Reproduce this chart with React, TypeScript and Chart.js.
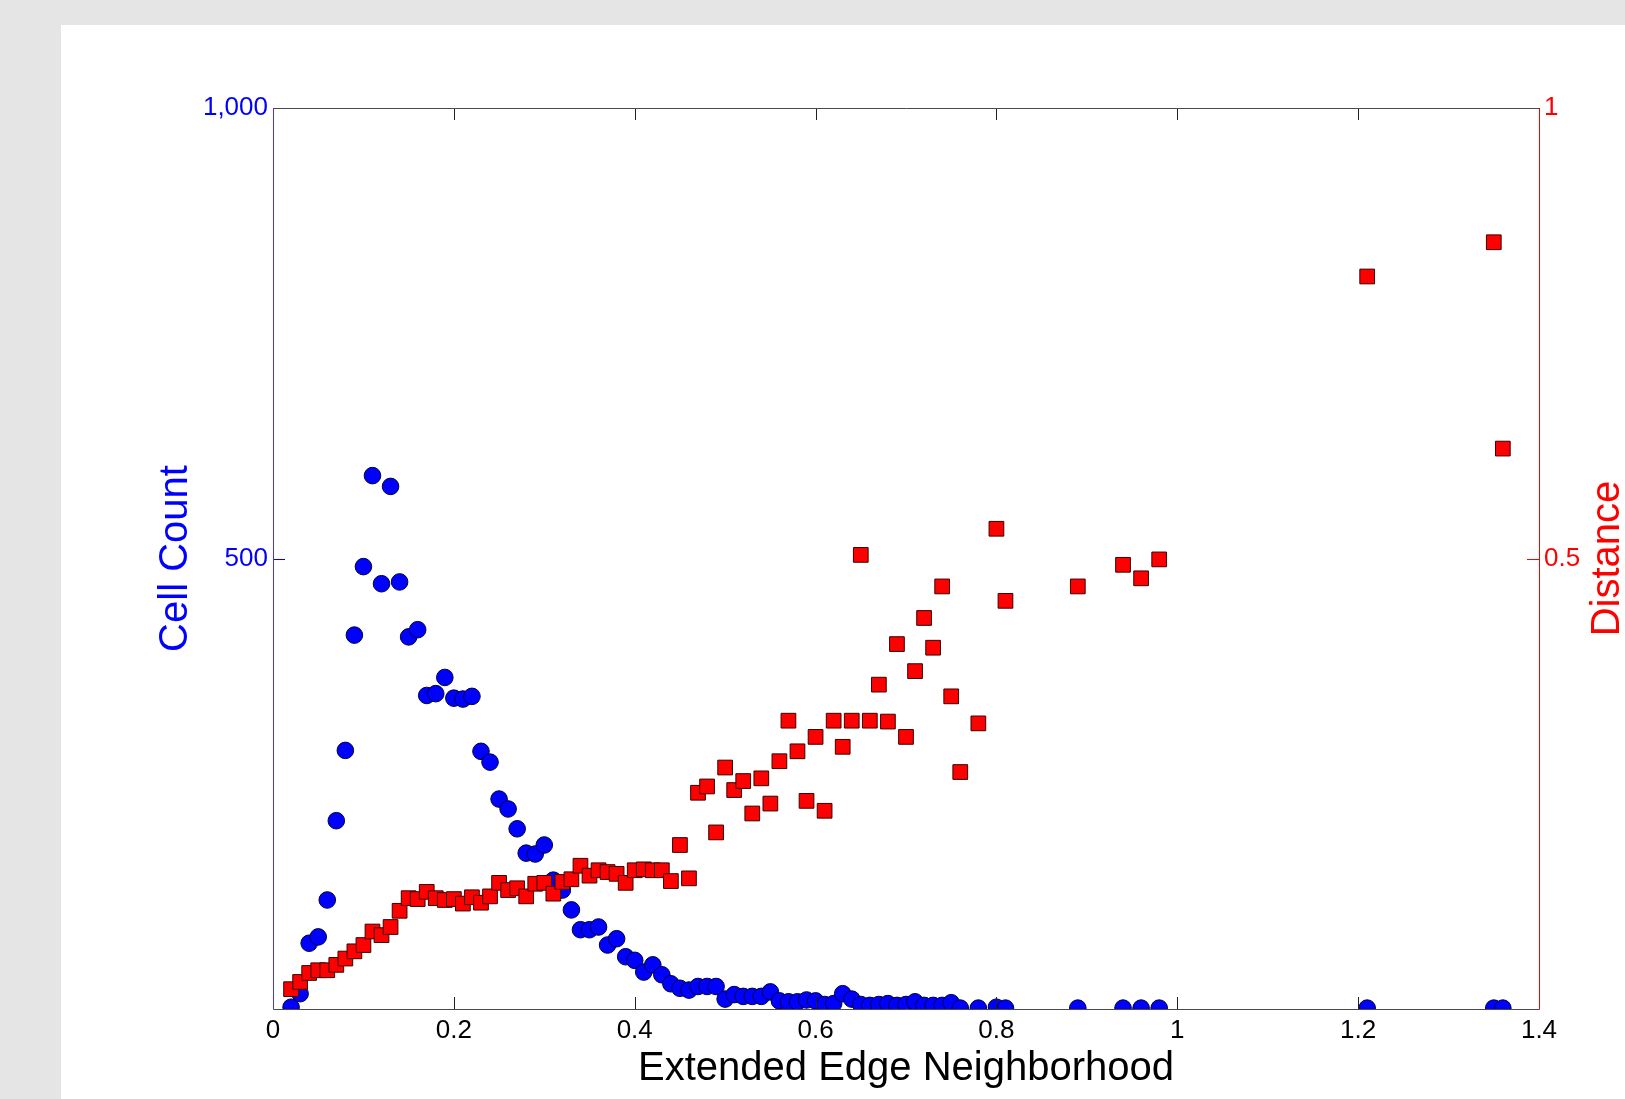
import React, { useEffect, useRef } from "react";
import { Chart, registerables } from "chart.js";

Chart.register(...registerables);

// Neighbourhood size (x) shared by both series
const extendedEdge = [
  0.02, 0.03, 0.04, 0.05, 0.06, 0.07, 0.08, 0.09, 0.1, 0.11,
  0.12, 0.13, 0.14, 0.15, 0.16, 0.17, 0.18, 0.19, 0.2, 0.21,
  0.22, 0.23, 0.24, 0.25, 0.26, 0.27, 0.28, 0.29, 0.3, 0.31,
  0.32, 0.33, 0.34, 0.35, 0.36, 0.37, 0.38, 0.39, 0.4, 0.41,
  0.42, 0.43, 0.44, 0.45, 0.46, 0.47, 0.48, 0.49, 0.5, 0.51,
  0.52, 0.53, 0.54, 0.55, 0.56, 0.57, 0.58, 0.59, 0.6, 0.61,
  0.62, 0.63, 0.64, 0.65, 0.66, 0.67, 0.68, 0.69, 0.7, 0.71,
  0.72, 0.73, 0.74, 0.75, 0.76, 0.78, 0.8, 0.81, 0.89, 0.94,
  0.96, 0.98, 1.21, 1.35, 1.36,
];

// Left axis: number of cells at each neighbourhood size
const cellCount = [
  2, 17, 73, 80, 121, 209, 287, 415, 491, 592,
  472, 580, 474, 413, 421, 348, 350, 368, 345, 344,
  347, 286, 274, 233, 222, 200, 173, 172, 182, 143,
  132, 110, 88, 88, 91, 71, 78, 58, 54, 41,
  49, 38, 28, 23, 21, 25, 25, 25, 11, 16,
  14, 14, 14, 19, 9, 8, 8, 10, 9, 5,
  6, 17, 11, 5, 4, 5, 6, 4, 5, 8,
  4, 4, 4, 7, 1, 1, 2, 1, 1, 1,
  1, 1, 1, 1, 1,
];

// Right axis: mean distance at each neighbourhood size
const distance = [
  0.022, 0.03, 0.04, 0.043, 0.043, 0.049, 0.056, 0.064, 0.071, 0.086,
  0.082, 0.091, 0.109, 0.123, 0.122, 0.13, 0.123, 0.121, 0.122, 0.117,
  0.124, 0.118, 0.125, 0.14, 0.132, 0.134, 0.125, 0.139, 0.14, 0.128,
  0.141, 0.144, 0.159, 0.148, 0.154, 0.152, 0.15, 0.14, 0.154, 0.155,
  0.154, 0.154, 0.142, 0.182, 0.145, 0.24, 0.247, 0.196, 0.268, 0.243,
  0.253, 0.217, 0.256, 0.228, 0.275, 0.32, 0.286, 0.231, 0.302, 0.22,
  0.32, 0.291, 0.32, 0.504, 0.32, 0.36, 0.319, 0.405, 0.302, 0.375,
  0.434, 0.401, 0.469, 0.347, 0.263, 0.317, 0.533, 0.453, 0.469, 0.493,
  0.478, 0.499, 0.813, 0.851, 0.622,
];

const xTicks = [0, 0.2, 0.4, 0.6, 0.8, 1, 1.2, 1.4];
const xTickLabels = ["0", "0.2", "0.4", "0.6", "0.8", "1", "1.2", "1.4"];
const countTicks = [500, 1000];
const countTickLabels = ["500", "1,000"];
const distanceTicks = [0.5, 1];
const distanceTickLabels = ["0.5", "1"];

const xTitle = "Extended Edge Neighborhood";
const countTitle = "Cell Count";
const distanceTitle = "Distance";

const FONT = "'Liberation Sans', Arial, Helvetica, sans-serif";
const BLUE = "#0000ff";
const RED = "#ff0000";
const TICK_LEN = 12;

const labelFor = (values: number[], labels: string[]) => (v: number | string) => {
  const i = values.findIndex((t) => Math.abs(t - Number(v)) < 1e-9);
  return i >= 0 ? labels[i] : "";
};

// Box, inward ticks and axis titles in the plotyy style
const framePlugin = {
  id: "plotyyFrame",
  afterDatasetsDraw(chart: any) {
    const { ctx, chartArea: a, scales } = chart;
    const line = (x1: number, y1: number, x2: number, y2: number) => {
      ctx.beginPath();
      ctx.moveTo(x1, y1);
      ctx.lineTo(x2, y2);
      ctx.stroke();
    };
    ctx.save();
    ctx.lineWidth = 1;

    // bottom and top x ticks
    ctx.strokeStyle = "#202020";
    for (const v of xTicks) {
      const px = Math.round(scales.x.getPixelForValue(v)) + 0.5;
      line(px, a.bottom, px, a.bottom - TICK_LEN);
      line(px, a.top, px, a.top + TICK_LEN);
    }
    // left ticks
    ctx.strokeStyle = BLUE;
    for (const v of countTicks) {
      const py = Math.round(scales.y.getPixelForValue(v)) + 0.5;
      line(a.left, py, a.left + TICK_LEN, py);
    }
    // right ticks
    ctx.strokeStyle = RED;
    for (const v of distanceTicks) {
      const py = Math.round(scales.y2.getPixelForValue(v)) + 0.5;
      line(a.right, py, a.right - TICK_LEN, py);
    }

    // box
    const L = Math.round(a.left) + 0.5;
    const R = Math.round(a.right) + 0.5;
    const T = Math.round(a.top) + 0.5;
    const B = Math.round(a.bottom) + 0.5;
    ctx.strokeStyle = "#4a4a4a";
    line(L, T, R, T);
    line(L, B, R, B);
    ctx.strokeStyle = "#3a3aff";
    line(L, T, L, B);
    ctx.strokeStyle = RED;
    line(R, T, R, B);

    // titles
    const cy = (a.top + a.bottom) / 2;
    ctx.font = `40px ${FONT}`;
    ctx.textBaseline = "alphabetic";
    ctx.textAlign = "center";
    ctx.fillStyle = "#000";
    ctx.fillText(xTitle, (a.left + a.right) / 2, 1080);

    ctx.save();
    ctx.translate(186.5, cy);
    ctx.rotate(-Math.PI / 2);
    ctx.fillStyle = BLUE;
    ctx.fillText(countTitle, 0, 0);
    ctx.restore();

    ctx.save();
    ctx.translate(1619, cy);
    ctx.rotate(-Math.PI / 2);
    ctx.fillStyle = RED;
    ctx.fillText(distanceTitle, 0, 0);
    ctx.restore();

    ctx.restore();
  },
};

export default function App() {
  const canvasRef = useRef<HTMLCanvasElement | null>(null);

  useEffect(() => {
    const canvas = canvasRef.current;
    if (!canvas) return;

    const countPoints = extendedEdge.map((x, i) => ({ x, y: cellCount[i] }));
    const distancePoints = extendedEdge.map((x, i) => ({ x, y: distance[i] }));

    const chart = new Chart(canvas, {
      type: "scatter",
      data: {
        datasets: [
          {
            label: countTitle,
            data: countPoints,
            yAxisID: "y",
            order: 2,
            pointStyle: "circle",
            pointRadius: 8.3,
            pointHoverRadius: 8.3,
            backgroundColor: BLUE,
            borderColor: "#00003a",
            borderWidth: 1,
          },
          {
            label: distanceTitle,
            data: distancePoints,
            yAxisID: "y2",
            order: 1,
            pointStyle: "rect",
            pointRadius: 10.4,
            pointHoverRadius: 10.4,
            backgroundColor: RED,
            borderColor: "#3a0000",
            borderWidth: 1,
          },
        ],
      },
      options: {
        animation: false,
        responsive: false,
        devicePixelRatio: 1,
        layout: { padding: { top: 108, left: 0, right: 0, bottom: 0 } },
        plugins: {
          legend: { display: false },
          tooltip: { enabled: false },
        },
        scales: {
          x: {
            type: "linear",
            position: "bottom",
            min: 0,
            max: 1.4,
            grid: { display: false, drawTicks: false },
            border: { display: false },
            afterBuildTicks: (s: any) => {
              s.ticks = xTicks.map((value) => ({ value }));
            },
            afterFit: (s: any) => {
              s.height = 90;
            },
            ticks: {
              padding: 6,
              color: "#000",
              font: { family: FONT, size: 26 },
              maxRotation: 0,
              autoSkip: false,
              callback: labelFor(xTicks, xTickLabels),
            },
          },
          y: {
            type: "linear",
            position: "left",
            min: 0,
            max: 1000,
            grid: { display: false, drawTicks: false },
            border: { display: false },
            afterBuildTicks: (s: any) => {
              s.ticks = countTicks.map((value) => ({ value }));
            },
            afterFit: (s: any) => {
              s.width = 273;
            },
            ticks: {
              padding: 5,
              color: BLUE,
              font: { family: FONT, size: 26 },
              callback: labelFor(countTicks, countTickLabels),
            },
          },
          y2: {
            type: "linear",
            position: "right",
            min: 0,
            max: 1,
            grid: { display: false, drawTicks: false },
            border: { display: false },
            afterBuildTicks: (s: any) => {
              s.ticks = distanceTicks.map((value) => ({ value }));
            },
            afterFit: (s: any) => {
              s.width = 86;
            },
            ticks: {
              padding: 5,
              color: RED,
              font: { family: FONT, size: 26 },
              callback: labelFor(distanceTicks, distanceTickLabels),
            },
          },
        },
      },
      plugins: [framePlugin],
    });

    return () => chart.destroy();
  }, []);

  return (
    <div
      style={{
        position: "fixed",
        left: 0,
        top: 0,
        width: 1625,
        height: 1099,
        background: "#e5e5e5",
        overflow: "hidden",
      }}
    >
      <div
        style={{
          position: "absolute",
          left: 61,
          top: 25,
          right: 0,
          bottom: 0,
          background: "#ffffff",
        }}
      />
      <canvas
        ref={canvasRef}
        width={1625}
        height={1099}
        style={{ position: "absolute", left: 0, top: 0, width: 1625, height: 1099 }}
      />
    </div>
  );
}
